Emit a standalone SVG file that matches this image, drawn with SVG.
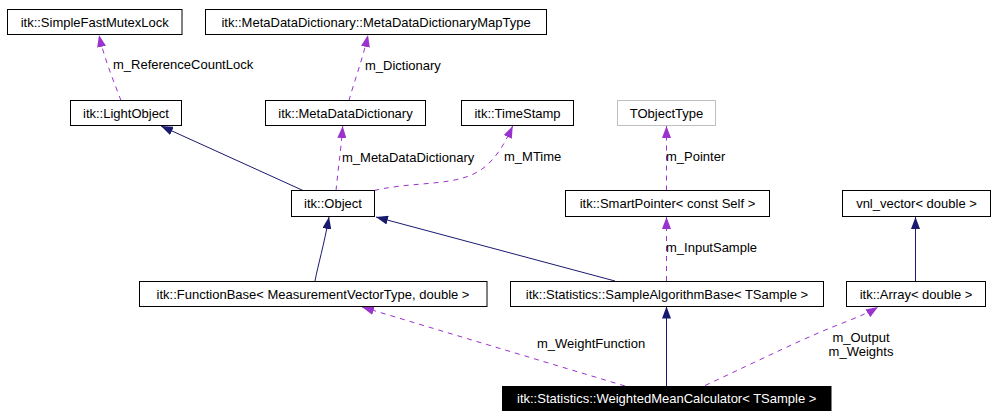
<svg xmlns="http://www.w3.org/2000/svg" width="996" height="418" viewBox="0 0 996 418">
<defs>
<marker id="ah-navy" markerUnits="userSpaceOnUse" markerWidth="12" markerHeight="9" refX="12" refY="4.5" orient="auto"><path d="M0,0 L12,4.5 L0,9 z" fill="#191970"/></marker>
<marker id="ah-purple" markerUnits="userSpaceOnUse" markerWidth="12" markerHeight="9" refX="12" refY="4.5" orient="auto"><path d="M0,0 L12,4.5 L0,9 z" fill="#9a32cd"/></marker>
<style>
text{font-family:"Liberation Sans",Arial,sans-serif;font-size:13px;fill:#000}
.box{fill:#fff;stroke:#000;stroke-width:1}
.gray{fill:#fff;stroke:#bfbfbf;stroke-width:1}
.dark{fill:#000;stroke:#000;stroke-width:1}
.nt{text-anchor:middle}
.wt{fill:#fff}
.inh{fill:none;stroke:#191970;stroke-width:1;marker-end:url(#ah-navy)}
.use{fill:none;stroke:#9a32cd;stroke-width:1;stroke-dasharray:5,5;marker-end:url(#ah-purple)}
</style>
</defs>
<rect width="996" height="418" fill="#fff"/>
<g id="edges">
<path class="use" d="M121,100.5 C114,82 104,58 99,35"/>
<text x="113" y="69">m_ReferenceCountLock</text>
<path class="use" d="M349,100.5 C354,82 363,58 368,35"/>
<text x="365" y="70">m_Dictionary</text>
<path class="use" d="M336,190.5 C338,170 341,150 342.7,126"/>
<text x="342" y="161.5">m_MetaDataDictionary</text>
<path class="use" d="M374,190.5 C420,180 460,188 486,166 C498,155 505,143 512.7,126"/>
<text x="504" y="161">m_MTime</text>
<path class="inh" d="M303,190.5 L161,126"/>
<path class="inh" d="M315,281 C318,265 324,245 329,217"/>
<path class="inh" d="M615,281 L376,217"/>
<path class="use" d="M666.5,190.5 L666.5,126"/>
<text x="666" y="161">m_Pointer</text>
<path class="use" d="M666.5,281 L666.5,217"/>
<text x="666" y="251.5">m_InputSample</text>
<path class="inh" d="M915.5,281 L915.5,217"/>
<path class="inh" d="M666.5,386 L666.5,306.5"/>
<path class="use" d="M625,386 L362,307"/>
<text x="537" y="348">m_WeightFunction</text>
<path class="use" d="M705,385.5 C760,360 810,335 848,321 C860,316 870,312 878,307"/>
<text class="nt" x="861" y="342">m_Output</text>
<text class="nt" x="861" y="356">m_Weights</text>
</g>
<g id="SimpleFastMutexLock"><rect class="box" x="7.5" y="9.5" width="174.5" height="25"/><text class="nt" x="94.7" y="26.5">itk::SimpleFastMutexLock</text></g>
<g id="MetaDataDictionaryMapType"><rect class="box" x="205.5" y="9.5" width="341" height="25"/><text class="nt" x="376" y="26.5">itk::MetaDataDictionary::MetaDataDictionaryMapType</text></g>
<g id="LightObject"><rect class="box" x="70.5" y="100.5" width="111" height="25"/><text class="nt" x="126" y="117.5">itk::LightObject</text></g>
<g id="MetaDataDictionary"><rect class="box" x="265.5" y="100.5" width="160" height="25"/><text class="nt" x="345.5" y="117.5">itk::MetaDataDictionary</text></g>
<g id="TimeStamp"><rect class="box" x="461.5" y="100.5" width="112" height="25"/><text class="nt" x="517.5" y="117.5">itk::TimeStamp</text></g>
<g id="TObjectType"><rect class="gray" x="617.5" y="100.5" width="98" height="25"/><text class="nt" x="666.5" y="117.5">TObjectType</text></g>
<g id="Object"><rect class="box" x="291.5" y="190.5" width="83" height="26"/><text class="nt" x="333" y="208">itk::Object</text></g>
<g id="SmartPointer"><rect class="box" x="565.5" y="190.5" width="204" height="26"/><text class="nt" x="667.5" y="208">itk::SmartPointer&lt; const Self &gt;</text></g>
<g id="vnl_vector"><rect class="box" x="842.5" y="190.5" width="148" height="26"/><text class="nt" x="916.5" y="208">vnl_vector&lt; double &gt;</text></g>
<g id="FunctionBase"><rect class="box" x="139.5" y="281.5" width="347.5" height="25"/><text class="nt" x="313" y="298.5">itk::FunctionBase&lt; MeasurementVectorType, double &gt;</text></g>
<g id="SampleAlgorithmBase"><rect class="box" x="510.5" y="281.5" width="313" height="25"/><text class="nt" x="667" y="298.5">itk::Statistics::SampleAlgorithmBase&lt; TSample &gt;</text></g>
<g id="Array"><rect class="box" x="846.5" y="281.5" width="139" height="25"/><text class="nt" x="916" y="298.5">itk::Array&lt; double &gt;</text></g>
<g id="WeightedMeanCalculator"><rect class="dark" x="502.5" y="386.5" width="328.5" height="24"/><text class="nt wt" x="666.7" y="403">itk::Statistics::WeightedMeanCalculator&lt; TSample &gt;</text></g>
</svg>
